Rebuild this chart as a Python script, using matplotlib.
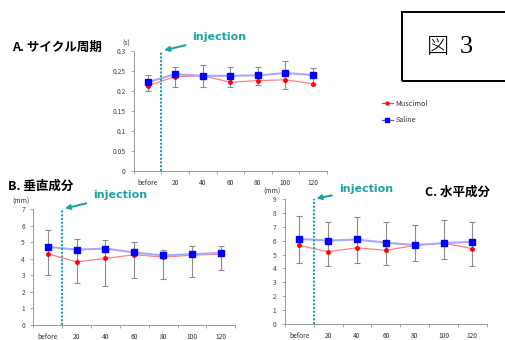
import numpy as np
import matplotlib
matplotlib.use('Agg')
import matplotlib.pyplot as plt
from matplotlib.patches import Rectangle

plt.rcParams['font.family'] = ['Noto Sans CJK JP', 'DejaVu Sans']

# datos
labels = ['before', '20', '40', '60', '80', '100', '120']

a_saline = [0.222, 0.242, 0.238, 0.238, 0.239, 0.245, 0.240]
a_muscimol = [0.213, 0.236, 0.238, 0.222, 0.226, 0.228, 0.218]
a_lo = [0.200, 0.209, 0.209, 0.209, 0.214, 0.204, 0.214]
a_hi = [0.240, 0.260, 0.265, 0.259, 0.259, 0.276, 0.258]

b_saline = [4.72, 4.55, 4.62, 4.38, 4.20, 4.28, 4.35]
b_muscimol = [4.30, 3.82, 4.02, 4.25, 4.10, 4.22, 4.28]
b_lo = [3.05, 2.52, 2.35, 2.85, 2.75, 2.92, 3.35]
b_hi = [5.72, 5.20, 5.13, 5.02, 4.55, 4.78, 4.78]

c_saline = [6.12, 6.00, 6.08, 5.85, 5.68, 5.82, 5.92]
c_muscimol = [5.65, 5.20, 5.48, 5.30, 5.65, 5.82, 5.42]
c_lo = [4.42, 4.15, 4.38, 4.28, 4.55, 4.68, 4.15]
c_hi = [7.75, 7.35, 7.68, 7.35, 7.15, 7.48, 7.35]

teal = '#1fa3a3'
axcol = '#999999'

fig = plt.figure(figsize=(5.05, 3.4), dpi=100)


def panel(rect, sal, mus, lo, hi, yticks, ytl, unit, text_off):
    ax = fig.add_axes(rect)
    x = np.arange(len(labels))
    lo = np.array(lo); hi = np.array(hi)
    mid = (lo + hi) / 2
    ax.errorbar(x, mid, yerr=[mid - lo, hi - mid], fmt='none', ecolor='#8c8c8c',
                elinewidth=0.8, capsize=2.5, capthick=0.8, zorder=1)
    ax.plot(x, mus, color='#ff8080', lw=0.9, zorder=2)
    ax.plot(x, mus, 'o', color='red', ms=2.5, zorder=4, label='Muscimol')
    ax.plot(x, sal, color='#a8a8ff', lw=1.5, zorder=3)
    ax.plot(x, sal, 's', color='#0000ff', ms=3.8, zorder=5, label='Saline')
    ymax = yticks[-1]
    ax.vlines(0.5, 0, ymax, color=teal, lw=1.5, linestyles=(0, (1, 0.8)), zorder=6)
    ax.set_xlim(-0.5, len(labels) - 0.5)
    ax.set_ylim(0, ymax)
    ax.set_yticks(yticks)
    ax.set_yticklabels(ytl)
    ax.set_xticks(x)
    ax.set_xticklabels(labels)
    ax.set_xticks(np.arange(-0.5, len(labels)), minor=True)
    ax.tick_params(axis='x', which='major', length=0, pad=6, labelsize=4.8, labelcolor='#333333')
    ax.tick_params(axis='x', which='minor', length=2, color=axcol, width=0.6)
    ax.tick_params(axis='y', length=2, color=axcol, width=0.6, pad=4, labelsize=4.8, labelcolor='#444444')
    for s in ['top', 'right']:
        ax.spines[s].set_visible(False)
    for s in ['left', 'bottom']:
        ax.spines[s].set_color(axcol)
        ax.spines[s].set_linewidth(0.7)
    ax.text(-0.02, 1.03, unit, transform=ax.transAxes, ha='right', va='bottom',
            fontsize=5, color='#333333')
    ax.annotate('injection', xy=(0.5, ymax), xycoords='data',
                xytext=text_off, textcoords='offset pixels', ha='left', va='center',
                fontsize=8, fontweight='bold', color=teal, family=['DejaVu Sans'],
                arrowprops=dict(arrowstyle='-|>', color=teal, lw=1.5,
                                mutation_scale=7, shrinkA=3, shrinkB=2))
    return ax


axA = panel([0.265, 0.497, 0.382, 0.353], a_saline, a_muscimol, a_lo, a_hi,
            [0, 0.05, 0.1, 0.15, 0.2, 0.25, 0.3],
            ['0', '0.05', '0.1', '0.15', '0.2', '0.25', '0.3'], '(s)', (31, 14))
axB = panel([0.066, 0.044, 0.400, 0.341], b_saline, b_muscimol, b_lo, b_hi,
            list(range(8)), [str(v) for v in range(8)], '(mm)', (31, 14))
axC = panel([0.564, 0.047, 0.400, 0.368], c_saline, c_muscimol, c_lo, c_hi,
            list(range(10)), [str(v) for v in range(10)], '(mm)', (25, 10))

leg_handles = [plt.Line2D([], [], color='#ff4040', lw=0.9, marker='o', ms=2, mfc='red', mec='red'),
               plt.Line2D([], [], color='#6060ff', lw=0.9, marker='s', ms=2.5, mfc='blue', mec='blue')]
fig.legend(leg_handles, ['Muscimol', 'Saline'], loc='center left',
           bbox_to_anchor=(375 / 505, 1 - 112 / 340), frameon=False,
           fontsize=5.2, handlelength=1.6, handletextpad=0.3, labelspacing=1.2,
           labelcolor='#333333')

fig.text(12 / 505, 1 - 47 / 340, 'A. サイクル周期', fontsize=9, fontweight='bold', va='center')
fig.text(8 / 505, 1 - 186 / 340, 'B. 垂直成分', fontsize=9, fontweight='bold', va='center')
fig.text(425 / 505, 1 - 192 / 340, 'C. 水平成分', fontsize=9, fontweight='bold', va='center')

fig.patches.append(Rectangle((402 / 505, 1 - 81 / 340), 110 / 505, 69 / 340,
                             transform=fig.transFigure, fill=False, ec='black', lw=1.4))
fig.text(438 / 505, 1 - 47 / 340, '図', fontsize=16, va='center', ha='center',
         family=['Noto Sans CJK JP'], fontweight='light')
fig.text(466 / 505, 1 - 47 / 340, '3', fontsize=19, va='center', ha='center',
         family=['Liberation Serif'])

fig.savefig('out.png', dpi=100)
